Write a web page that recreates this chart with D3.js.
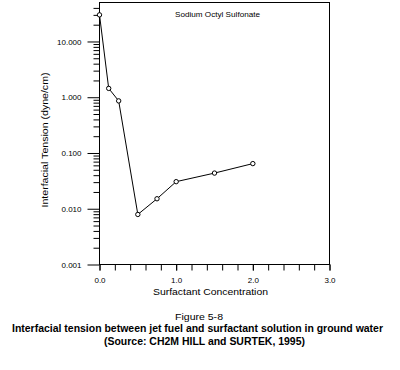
<!DOCTYPE html>
<html><head><meta charset="utf-8">
<script src="https://cdn.jsdelivr.net/npm/d3@7"></script>
<style>body{margin:0;background:#fff}svg{display:block}text{font-family:"Liberation Sans",Arial,sans-serif;fill:#000}</style>
</head><body>
<script>
const concentration = [0.0, 0.12, 0.25, 0.5, 0.75, 1.0, 1.5, 2.0];
const tension = [30, 1.44, 0.86, 0.0079, 0.0151, 0.0306, 0.0436, 0.0645];
const yTickValues = [0.001, 0.01, 0.1, 1, 10];
const yTickLabels = ["0.001", "0.010", "0.100", "1.000", "10.000"];
const xTickValues = [0, 1, 2, 3];
const xTickLabels = ["0.0", "1.0", "2.0", "3.0"];
const seriesName = "Sodium Octyl Sulfonate";
const xTitle = "Surfactant Concentration";
const yTitle = "Interfacial Tension (dyne/cm)";
const captionLines = ["Figure 5-8", "Interfacial tension between jet fuel and surfactant solution in ground water", "(Source: CH2M HILL and SURTEK, 1995)"];

const W = 400, H = 370;
const svg = d3.select("body").append("svg").attr("width", W).attr("height", H);
const x = d3.scaleLinear().domain([0, 3]).range([99.5, 329.5]);
const y = d3.scaleLog().domain([0.001, 50]).range([264.5, 2.5]);

// frame
svg.append("rect").attr("x", x(0)).attr("y", y(50)).attr("width", x(3) - x(0)).attr("height", y(0.001) - y(50))
  .attr("fill", "none").attr("stroke", "#000").attr("stroke-width", 1);

// y axis minor ticks
const minor = [];
for (let e = -3; e <= 1; e++) for (let m = 2; m <= 9; m++) { const v = m * Math.pow(10, e); if (v < 50) minor.push(v); }
const yAxisMinor = d3.axisLeft(y).tickValues(minor).tickSize(6).tickFormat("");
const gyMinor = svg.append("g").attr("transform", `translate(${x(0)},0)`).call(yAxisMinor);
gyMinor.select(".domain").remove();
const yAxis = d3.axisLeft(y).tickValues(yTickValues).tickSize(12).tickPadding(6)
  .tickFormat((d, i) => yTickLabels[i]);
const gy = svg.append("g").attr("transform", `translate(${x(0)},0)`).call(yAxis);
gy.select(".domain").remove();
gy.selectAll("text").attr("font-size", 8).style("font-family", '"Liberation Sans",Arial,sans-serif');

// x axis
const xMinor = d3.range(0, 3.0001, 0.2);
const gxMinor = svg.append("g").attr("transform", `translate(0,${y(0.001)})`)
  .call(d3.axisBottom(x).tickValues(xMinor).tickSize(6).tickFormat(""));
gxMinor.select(".domain").remove();
const gx = svg.append("g").attr("transform", `translate(0,${y(0.001)})`)
  .call(d3.axisBottom(x).tickValues(xTickValues).tickSize(6).tickPadding(7).tickFormat((d, i) => xTickLabels[i]));
gx.select(".domain").remove();
gx.selectAll("text").attr("font-size", 8).style("font-family", '"Liberation Sans",Arial,sans-serif');

// line
const pts = concentration.map((c, i) => [c, tension[i]]);
svg.append("path").datum(pts).attr("fill", "none").attr("stroke", "#000").attr("stroke-width", 1)
  .attr("d", d3.line().x(d => x(d[0])).y(d => y(d[1])));
svg.selectAll("circle.pt").data(pts).join("circle").attr("class", "pt")
  .attr("cx", d => x(d[0])).attr("cy", d => y(d[1])).attr("r", 2.2)
  .attr("fill", "#fff").attr("stroke", "#000").attr("stroke-width", 1);

// texts
svg.append("text").attr("x", 217.5).attr("y", 17).attr("text-anchor", "middle").attr("font-size", 8)
  .attr("textLength", 85).attr("lengthAdjust", "spacingAndGlyphs").text(seriesName);
svg.append("text").attr("x", 210.5).attr("y", 295).attr("text-anchor", "middle").attr("font-size", 9.5)
  .attr("textLength", 115).attr("lengthAdjust", "spacingAndGlyphs").text(xTitle);
svg.append("text").attr("transform", "translate(47.5,140) rotate(-90)").attr("text-anchor", "middle").attr("font-size", 9.5)
  .attr("textLength", 135).attr("lengthAdjust", "spacingAndGlyphs").text(yTitle);
svg.append("text").attr("x", 199).attr("y", 320).attr("text-anchor", "middle").attr("font-size", 9.5)
  .attr("textLength", 48).attr("lengthAdjust", "spacingAndGlyphs").text(captionLines[0]);
svg.append("text").attr("x", 197.5).attr("y", 331.5).attr("text-anchor", "middle").attr("font-size", 10).attr("font-weight", "bold")
  .attr("textLength", 371).attr("lengthAdjust", "spacingAndGlyphs").text(captionLines[1]);
svg.append("text").attr("x", 204.5).attr("y", 344.5).attr("text-anchor", "middle").attr("font-size", 10).attr("font-weight", "bold")
  .attr("textLength", 201).attr("lengthAdjust", "spacingAndGlyphs").text(captionLines[2]);
</script>
</body></html>
